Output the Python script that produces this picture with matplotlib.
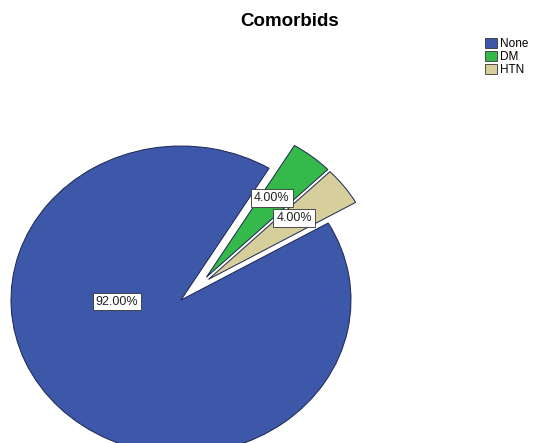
import matplotlib
matplotlib.use("Agg")

import numpy as np
import matplotlib.pyplot as plt
from matplotlib.patches import Patch

# data
categories = ["None", "DM", "HTN"]
percentages = [92.0, 4.0, 4.0]
colors = ["#3d57a9", "#35b94a", "#d6cf9c"]
explode = [0.0, 0.21, 0.21]

# label spots inside the pie (data units, pie radius = 1)
label_pos = [(-0.376, -0.01), (0.535, 0.662), (0.665, 0.532)]

W, H = 533, 443
fig = plt.figure(figsize=(W / 100, H / 100), dpi=100)
plt.rcParams["font.family"] = ["Liberation Sans", "DejaVu Sans"]

# pie centre and radii in pixels (it is drawn as an ellipse)
cx, cy = 181, H - 300
rx, ry = 170, 154
lim = 1.3
ax = fig.add_axes([(cx - lim * rx) / W, (cy - lim * ry) / H,
                   2 * lim * rx / W, 2 * lim * ry / H])

wedges, _ = ax.pie(
    percentages,
    colors=colors,
    startangle=30,
    counterclock=False,
    wedgeprops={"edgecolor": "#1b2450", "linewidth": 0.7},
)

# SPSS pulls the small slices out roughly together, not each along its own middle
common = 41.0
for w, d in zip(wedges, explode):
    if d == 0:
        continue
    mid = (0.5 * (w.theta1 + w.theta2)) % 360
    a = np.deg2rad(common + 0.35 * (mid - common))
    w.set_center((d * np.cos(a), d * np.sin(a)))

ax.set_xlim(-lim, lim)
ax.set_ylim(-lim, lim)
ax.set_aspect("auto")
ax.axis("off")

for (x, y), p in zip(label_pos, percentages):
    ax.text(x, y, f"{p:.2f}%", ha="center", va="center", fontsize=9,
            color="#222222",
            bbox=dict(boxstyle="square,pad=0.22", fc="white", ec="#333333", lw=0.6))

fig.text(290 / W, 1 - 22 / H, "Comorbids", ha="center", va="center",
         fontsize=13.5, fontweight="bold")

handles = [Patch(facecolor=c, edgecolor="#333333", linewidth=0.6) for c in colors]
fig.legend(handles, categories, loc="upper left",
           bbox_to_anchor=(485 / W, 1 - 38 / H), frameon=False,
           fontsize=8.5, handlelength=1.0, handleheight=0.9,
           handletextpad=0.3, labelspacing=0.1, borderpad=0, borderaxespad=0)

fig.savefig("out.png", dpi=100)
